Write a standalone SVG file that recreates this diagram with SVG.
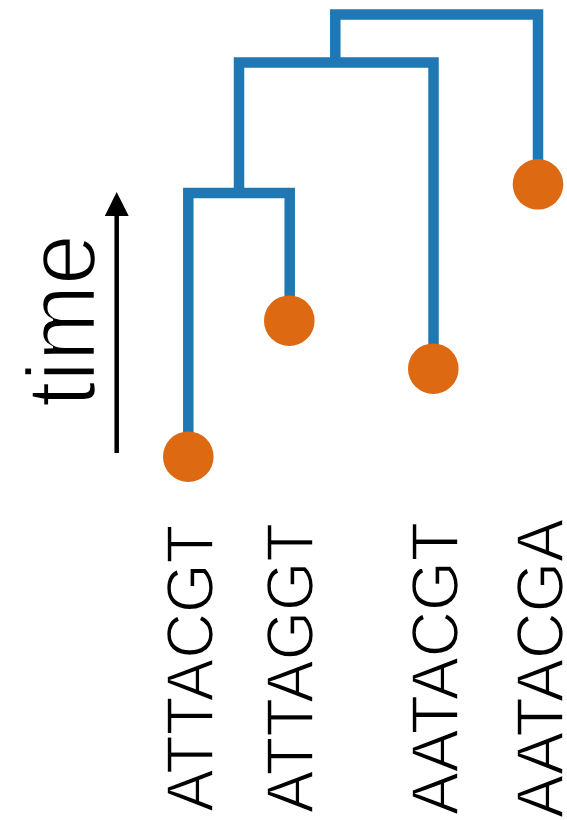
<svg xmlns="http://www.w3.org/2000/svg" width="567" height="820" viewBox="0 0 567 820">
  <defs>
    <style>
      .branch { fill: none; stroke: #1f77b4; stroke-width: 10.5; stroke-linejoin: miter; stroke-linecap: butt; }
      .leaf { fill: #dd6a12; }
      /* a thin white outline painted over the glyphs gives a lighter weight */
      .seq { font-family: "Liberation Sans", Arial, sans-serif; font-size: 67px; fill: #000; stroke: #fff; stroke-width: 1.6px; paint-order: fill stroke; }
      .axis-label { font-family: "Liberation Sans", Arial, sans-serif; font-size: 98px; fill: #000; stroke: #fff; stroke-width: 2.4px; paint-order: fill stroke; }
      .axis { stroke: #000; stroke-width: 4.5; fill: none; }
    </style>
    <marker id="arrowhead" viewBox="0 0 26 24" refX="2" refY="12" markerWidth="26" markerHeight="24" markerUnits="userSpaceOnUse" orient="auto">
      <path d="M0,0 L24,12 L0,24 Z" fill="#000"/>
    </marker>
  </defs>

  <!-- time axis -->
  <g id="time-axis">
    <line class="axis" x1="116.7" y1="453" x2="116.7" y2="214" marker-end="url(#arrowhead)"/>
    <text class="axis-label" transform="translate(95 407) rotate(-90)" textLength="173" lengthAdjust="spacingAndGlyphs">time</text>
  </g>

  <!-- tree branches -->
  <g id="connectors">
    <path class="branch" d="M335.3,62.5 V14.5 H538 V184"/>
    <path class="branch" d="M239,193 V62.5 H433.5 V369"/>
    <path class="branch" d="M188.3,457 V193 H289.7 V321"/>
  </g>

  <!-- leaves -->
  <g id="leaf-attacgt">
    <circle class="leaf" cx="188.3" cy="456.7" r="25.3"/>
    <text class="seq" transform="translate(213.3 811.7) rotate(-90)" textLength="287" lengthAdjust="spacingAndGlyphs">ATTACGT</text>
  </g>
  <g id="leaf-attaggt">
    <circle class="leaf" cx="289.3" cy="320.7" r="25.3"/>
    <text class="seq" transform="translate(313.3 813) rotate(-90)" textLength="290" lengthAdjust="spacingAndGlyphs">ATTAGGT</text>
  </g>
  <g id="leaf-aatacgt">
    <circle class="leaf" cx="433.3" cy="368.7" r="25.3"/>
    <text class="seq" transform="translate(458.3 815) rotate(-90)" textLength="293" lengthAdjust="spacingAndGlyphs">AATACGT</text>
  </g>
  <g id="leaf-aatacga">
    <circle class="leaf" cx="538" cy="184.3" r="25.3"/>
    <text class="seq" transform="translate(563.3 818) rotate(-90)" textLength="299" lengthAdjust="spacingAndGlyphs">AATACGA</text>
  </g>
</svg>
